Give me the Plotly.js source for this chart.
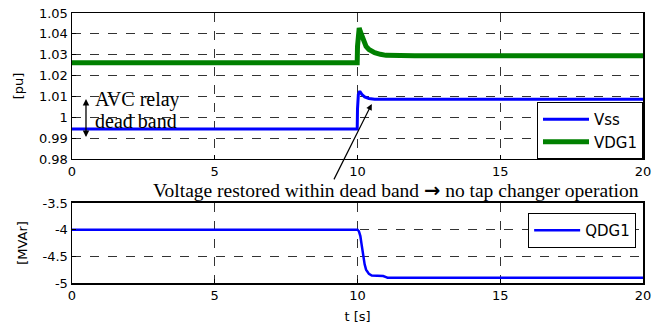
<!DOCTYPE html>
<html><head><meta charset="utf-8">
<script src="https://cdn.plot.ly/plotly-3.0.1.min.js"></script>
<style>html,body{margin:0;padding:0;background:#fff}#c{width:662px;height:331px}</style>
</head><body><div id="c"></div>
<script>
// Upper plot data
const tVss  = [0, 9.99, 10.0, 10.03, 10.08, 10.15, 10.25, 10.4, 10.6, 20];
const vss   = [0.9944, 0.9944, 1.004, 1.011, 1.0125, 1.011, 1.0098, 1.0090, 1.0086, 1.0086];
const tVdg  = [0, 9.99, 10.0, 10.03, 10.06, 10.1, 10.15, 10.2, 10.3, 10.4, 10.5, 10.6, 10.8, 11.0, 12, 20];
const vdg1  = [1.0262, 1.0262, 1.034, 1.040, 1.0428, 1.041, 1.039, 1.037, 1.034, 1.0325, 1.0315, 1.031, 1.0302, 1.0297, 1.0295, 1.0295];
// Lower plot data
const tQ    = [0, 10.0, 10.05, 10.1, 10.15, 10.2, 10.25, 10.3, 10.4, 10.5, 10.7, 10.9, 11.0, 11.05, 20];
const qdg1  = [-4, -4, -4.03, -4.12, -4.3, -4.5, -4.65, -4.75, -4.83, -4.86, -4.87, -4.87, -4.89, -4.9, -4.9];
const xTicks = [0, 5, 10, 15, 20];
const yTopTicks = [0.98, 0.99, 1, 1.01, 1.02, 1.03, 1.04, 1.05];
const yTopLabels = ['0.98', '0.99', '1', '1.01', '1.02', '1.03', '1.04', '1.05'];
const yBotTicks = [-5, -4.5, -4, -3.5];
const yBotLabels = ['-5', '-4.5', '-4', '-3.5'];

const tickFont = {family: 'DejaVu Sans', size: 13, color: '#000'};
const serif = {family: 'Liberation Serif', size: 20, color: '#000'};
const serifNote = {family: 'Liberation Serif', size: 19.5, color: '#000'};

const axBase = {
  showline: true, mirror: true, linecolor: '#000', linewidth: 1.5,
  showgrid: true, gridcolor: '#000', griddash: 'dash', gridwidth: 0.8,
  zeroline: false, ticks: 'inside', ticklen: 4, tickcolor: '#000',
  tickfont: tickFont
};

const traces = [
  {x: tVss, y: vss, name: 'Vss', mode: 'lines', line: {color: '#0000ff', width: 3}, xaxis: 'x', yaxis: 'y', legend: 'legend'},
  {x: tVdg, y: vdg1, name: 'VDG1', mode: 'lines', line: {color: '#008000', width: 5}, xaxis: 'x', yaxis: 'y', legend: 'legend'},
  {x: tQ, y: qdg1, name: 'QDG1', mode: 'lines', line: {color: '#0000ff', width: 2.5}, xaxis: 'x2', yaxis: 'y2', legend: 'legend2'}
];

const layout = {
  width: 662, height: 331,
  margin: {l: 72, r: 19, t: 13, b: 48},
  paper_bgcolor: '#fff', plot_bgcolor: '#fff',
  showlegend: true,
  xaxis: Object.assign({}, axBase, {domain: [0, 1], range: [0, 20], tickvals: xTicks, anchor: 'y'}),
  yaxis: Object.assign({}, axBase, {domain: [0.4593, 1], range: [0.98, 1.05], tickvals: yTopTicks, ticktext: yTopLabels,
    title: {text: '[pu]', font: tickFont, standoff: 12}, anchor: 'x'}),
  xaxis2: Object.assign({}, axBase, {domain: [0, 1], range: [0, 20], tickvals: xTicks, anchor: 'y2',
    title: {text: 't [s]', font: tickFont, standoff: 10}}),
  yaxis2: Object.assign({}, axBase, {domain: [0, 0.2963], range: [-5, -3.5], tickvals: yBotTicks, ticktext: yBotLabels,
    title: {text: '[MVAr]', font: tickFont, standoff: 12}, anchor: 'x2'}),
  legend: {x: 1, xanchor: 'right', y: 0.4593, yanchor: 'bottom', bgcolor: '#fff', bordercolor: '#000', borderwidth: 1,
    font: {family: 'DejaVu Sans', size: 15, color: '#000'}, tracegroupgap: 0, itemwidth: 46},
  legend2: {x: 0.988, xanchor: 'right', y: 0.259, yanchor: 'top', bgcolor: '#fff', bordercolor: '#000', borderwidth: 1,
    font: {family: 'DejaVu Sans', size: 15, color: '#000'}, itemwidth: 46},
  annotations: [
    {xref: 'x', yref: 'y', axref: 'x', ayref: 'y', x: 0.49, y: 0.9905, ax: 0.49, ay: 1.0095,
     showarrow: true, arrowhead: 2, startarrowhead: 2, arrowside: 'end+start', arrowwidth: 1.3, arrowcolor: '#000', text: ''},
    {xref: 'x', yref: 'y', x: 0.72, y: 1.0087, text: 'AVC relay', showarrow: false, xanchor: 'left', font: serif},
    {xref: 'x', yref: 'y', x: 0.72, y: 0.9982, text: 'dead band', showarrow: false, xanchor: 'left', font: serif},
    {xref: 'x', yref: 'y', axref: 'x', ayref: 'y', x: 10.5, y: 1.0064, ax: 9.15, ay: 0.9695,
     showarrow: true, arrowhead: 2, arrowwidth: 1.2, arrowcolor: '#000', text: ''},
    {xref: 'paper', yref: 'paper', x: 0.5674, y: 0.343, text: 'Voltage restored within dead band <span style="font-family:DejaVu Sans;font-weight:bold">\u2192</span> no tap changer operation',
     showarrow: false, xanchor: 'center', yanchor: 'middle', font: serifNote}
  ]
};

Plotly.newPlot('c', traces, layout, {displayModeBar: false, staticPlot: true});
</script></body></html>
